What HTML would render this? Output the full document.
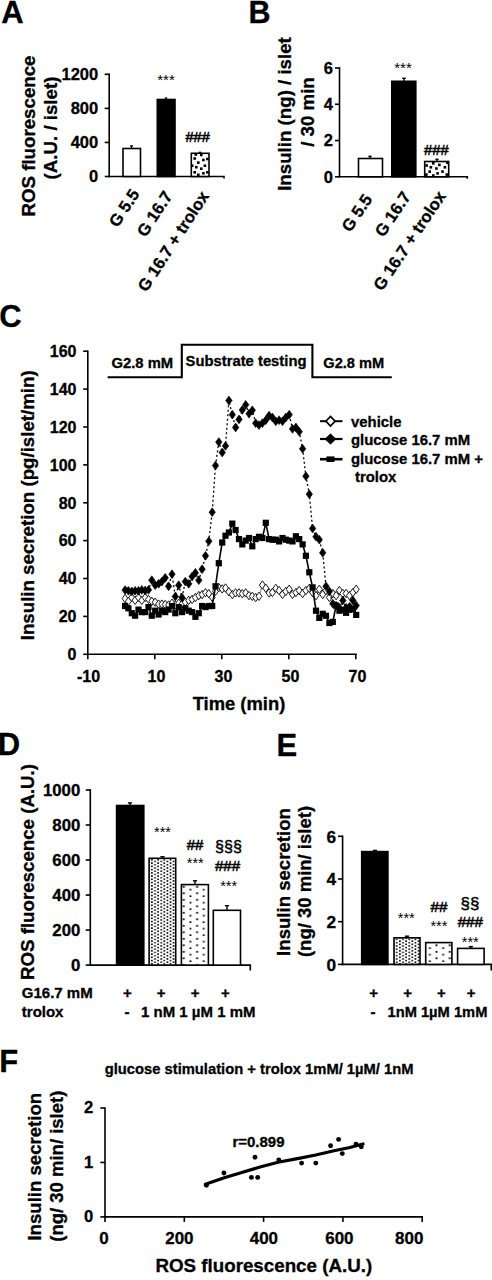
<!DOCTYPE html>
<html><head><meta charset="utf-8"><title>Figure</title>
<style>
html,body{margin:0;padding:0;background:#fff;}
body{width:492px;height:1280px;overflow:hidden;font-family:"Liberation Sans",sans-serif;}
svg{display:block;}
svg text{font-family:"Liberation Sans",sans-serif;fill:#000;}
svg text[font-weight=bold]{stroke:#000;stroke-width:0.3px;}
</style></head><body>
<svg width="492" height="1280" viewBox="0 0 492 1280">
<rect width="492" height="1280" fill="#fff"/>
<defs>
<pattern id="pA" width="8" height="9" patternUnits="userSpaceOnUse">
<rect width="8" height="9" fill="#fff"/>
<rect x="1" y="1" width="2.4" height="2.4" fill="#000"/>
<rect x="5" y="5.5" width="2.4" height="2.4" fill="#000"/>
</pattern>
<pattern id="pDense" width="6.2" height="3.25" patternUnits="userSpaceOnUse" patternTransform="translate(2.25 1.0)">
<rect width="6.2" height="3.25" fill="#fff"/>
<rect x="0.05" y="0.05" width="1.6" height="1.6" fill="#000"/>
<rect x="3.15" y="1.675" width="1.6" height="1.6" fill="#000"/>
</pattern>
<pattern id="pSparse" width="13.3" height="6.5" patternUnits="userSpaceOnUse">
<rect width="13.3" height="6.5" fill="#fff"/>
<rect x="10.0" y="1.9" width="1.8" height="1.8" fill="#000"/>
<rect x="3.35" y="4.9" width="1.8" height="1.8" fill="#000"/>
</pattern>
</defs>
<text x="1.3" y="23.2" font-size="31" text-anchor="start" font-weight="bold" stroke="#000" stroke-width="0.5">A</text>
<line x1="109.2" y1="73.5" x2="109.2" y2="177.3" stroke="#000" stroke-width="1.6" />
<path d="M108.4 176.5 H224 V178.5" fill="none" stroke="#000" stroke-width="1.6"/>
<line x1="104.7" y1="176.5" x2="109.2" y2="176.5" stroke="#000" stroke-width="1.6" />
<text x="98.2" y="182.4" font-size="16.5" text-anchor="end" font-weight="bold" >0</text>
<line x1="104.7" y1="142.43333333333334" x2="109.2" y2="142.43333333333334" stroke="#000" stroke-width="1.6" />
<text x="98.2" y="148.33333333333334" font-size="16.5" text-anchor="end" font-weight="bold" >400</text>
<line x1="104.7" y1="108.36666666666666" x2="109.2" y2="108.36666666666666" stroke="#000" stroke-width="1.6" />
<text x="98.2" y="114.26666666666667" font-size="16.5" text-anchor="end" font-weight="bold" >800</text>
<line x1="104.7" y1="74.3" x2="109.2" y2="74.3" stroke="#000" stroke-width="1.6" />
<text x="98.2" y="80.2" font-size="16.5" text-anchor="end" font-weight="bold" >1200</text>
<rect x="123" y="148.5" width="17.5" height="28" fill="#fff" stroke="#000" stroke-width="1.6"/>
<line x1="131.5" y1="148.5" x2="131.5" y2="145.9" stroke="#000" stroke-width="1.4" />
<line x1="130.1" y1="145.9" x2="132.9" y2="145.9" stroke="#000" stroke-width="1.4" />
<rect x="157.3" y="99.5" width="17.7" height="77" fill="#000" stroke="#000" stroke-width="1.6"/>
<line x1="166" y1="99.5" x2="166" y2="98.1" stroke="#000" stroke-width="1.4" />
<line x1="164.8" y1="98.1" x2="167.2" y2="98.1" stroke="#000" stroke-width="1.4" />
<clipPath id="cb1"><rect x="191.3" y="153.3" width="17.7" height="23.2"/></clipPath>
<rect x="191.3" y="153.3" width="17.7" height="23.2" fill="#fff"/>
<g clip-path="url(#cb1)">
<rect x="194.45" y="153.2" width="2.6" height="2.6" fill="#000"/>
<rect x="200.0" y="153.7" width="2.6" height="2.6" fill="#000"/>
<rect x="193.4" y="157.2" width="2.6" height="2.6" fill="#000"/>
<rect x="202.1" y="158.7" width="2.6" height="2.6" fill="#000"/>
<rect x="206.1" y="157.7" width="2.6" height="2.6" fill="#000"/>
<rect x="197.0" y="161.3" width="2.6" height="2.6" fill="#000"/>
<rect x="190.9" y="164.4" width="2.6" height="2.6" fill="#000"/>
<rect x="203.6" y="164.4" width="2.6" height="2.6" fill="#000"/>
<rect x="195.0" y="165.9" width="2.6" height="2.6" fill="#000"/>
<rect x="200.0" y="167.4" width="2.6" height="2.6" fill="#000"/>
<rect x="193.4" y="171.0" width="2.6" height="2.6" fill="#000"/>
<rect x="202.1" y="172.0" width="2.6" height="2.6" fill="#000"/>
<rect x="206.1" y="171.0" width="2.6" height="2.6" fill="#000"/>
<rect x="197.0" y="173.5" width="2.6" height="2.6" fill="#000"/>
</g>
<rect x="191.3" y="153.3" width="17.7" height="23.2" fill="none" stroke="#000" stroke-width="1.6"/>
<line x1="200" y1="153.3" x2="200" y2="152.4" stroke="#000" stroke-width="1.4" />
<line x1="198.8" y1="152.4" x2="201.2" y2="152.4" stroke="#000" stroke-width="1.4" />
<text x="166" y="85" font-size="15" text-anchor="middle" font-weight="normal" >***</text>
<text x="197.6" y="142" font-size="14.6" text-anchor="middle" font-weight="normal" stroke="#000" stroke-width="0.5">###</text>
<text x="34.5" y="136" font-size="18.7" text-anchor="middle" font-weight="bold" transform="rotate(-90 34.5 136)" >ROS fluorescence</text>
<text x="56.5" y="128" font-size="18.7" text-anchor="middle" font-weight="bold" transform="rotate(-90 56.5 128)" >(A.U. / islet)</text>
<text x="140" y="194" font-size="16.7" text-anchor="end" font-weight="bold" transform="rotate(-57 140 194)" >G 5.5</text>
<text x="173" y="196" font-size="16.7" text-anchor="end" font-weight="bold" transform="rotate(-57 173 196)" >G 16.7</text>
<text x="209.5" y="196" font-size="16.7" text-anchor="end" font-weight="bold" transform="rotate(-57 209.5 196)" >G 16.7 + trolox</text>
<text x="248.4" y="22.8" font-size="30.5" text-anchor="start" font-weight="bold" stroke="#000" stroke-width="0.5">B</text>
<line x1="339.5" y1="67.2" x2="339.5" y2="177.60000000000002" stroke="#000" stroke-width="1.6" />
<path d="M338.7 176.8 H467.3 V178.8" fill="none" stroke="#000" stroke-width="1.6"/>
<line x1="335.0" y1="176.8" x2="339.5" y2="176.8" stroke="#000" stroke-width="1.6" />
<text x="333.0" y="182.70000000000002" font-size="16.5" text-anchor="end" font-weight="bold" >0</text>
<line x1="335.0" y1="140.53333333333333" x2="339.5" y2="140.53333333333333" stroke="#000" stroke-width="1.6" />
<text x="333.0" y="146.43333333333334" font-size="16.5" text-anchor="end" font-weight="bold" >2</text>
<line x1="335.0" y1="104.26666666666667" x2="339.5" y2="104.26666666666667" stroke="#000" stroke-width="1.6" />
<text x="333.0" y="110.16666666666667" font-size="16.5" text-anchor="end" font-weight="bold" >4</text>
<line x1="335.0" y1="68.0" x2="339.5" y2="68.0" stroke="#000" stroke-width="1.6" />
<text x="333.0" y="73.9" font-size="16.5" text-anchor="end" font-weight="bold" >6</text>
<rect x="358.5" y="158.5" width="24" height="18.3" fill="#fff" stroke="#000" stroke-width="1.6"/>
<line x1="370" y1="158.5" x2="370" y2="156.3" stroke="#000" stroke-width="1.4" />
<line x1="368.4" y1="156.3" x2="371.6" y2="156.3" stroke="#000" stroke-width="1.4" />
<rect x="391.8" y="81.3" width="24" height="95.5" fill="#000" stroke="#000" stroke-width="1.6"/>
<line x1="404" y1="81.3" x2="404" y2="78.3" stroke="#000" stroke-width="1.4" />
<line x1="402.2" y1="78.3" x2="405.8" y2="78.3" stroke="#000" stroke-width="1.4" />
<clipPath id="cb2"><rect x="424.7" y="161.5" width="24" height="15.3"/></clipPath>
<rect x="424.7" y="161.5" width="24" height="15.3" fill="#fff"/>
<g clip-path="url(#cb2)">
<rect x="425.3" y="164.2" width="2.6" height="2.6" fill="#000"/>
<rect x="438.1" y="163.6" width="2.6" height="2.6" fill="#000"/>
<rect x="443.6" y="166.0" width="2.6" height="2.6" fill="#000"/>
<rect x="429.6" y="166.0" width="2.6" height="2.6" fill="#000"/>
<rect x="435.1" y="167.2" width="2.6" height="2.6" fill="#000"/>
<rect x="428.4" y="170.3" width="2.6" height="2.6" fill="#000"/>
<rect x="441.2" y="170.3" width="2.6" height="2.6" fill="#000"/>
<rect x="436.3" y="172.1" width="2.6" height="2.6" fill="#000"/>
<rect x="432.0" y="162.0" width="2.6" height="2.6" fill="#000"/>
<rect x="445.5" y="173.3" width="2.6" height="2.6" fill="#000"/>
<rect x="425.1" y="173.3" width="2.6" height="2.6" fill="#000"/>
<rect x="432.0" y="174.2" width="2.6" height="2.6" fill="#000"/>
<rect x="446.2" y="161.5" width="2.6" height="2.6" fill="#000"/>
</g>
<rect x="424.7" y="161.5" width="24" height="15.3" fill="none" stroke="#000" stroke-width="1.6"/>
<line x1="437" y1="161.5" x2="437" y2="159.3" stroke="#000" stroke-width="1.4" />
<line x1="435.4" y1="159.3" x2="438.6" y2="159.3" stroke="#000" stroke-width="1.4" />
<text x="403" y="72.5" font-size="15" text-anchor="middle" font-weight="normal" >***</text>
<text x="436.4" y="155.2" font-size="14.8" text-anchor="middle" font-weight="normal" stroke="#000" stroke-width="0.5">###</text>
<text x="291" y="114" font-size="18.7" text-anchor="middle" font-weight="bold" transform="rotate(-90 291 114)" >Insulin (ng) / islet</text>
<text x="313.5" y="112" font-size="18.7" text-anchor="middle" font-weight="bold" transform="rotate(-90 313.5 112)" >/ 30 min</text>
<text x="373" y="199.2" font-size="16.7" text-anchor="end" font-weight="bold" transform="rotate(-56 373 199.2)" >G 5.5</text>
<text x="411.5" y="196.5" font-size="16.7" text-anchor="end" font-weight="bold" transform="rotate(-56 411.5 196.5)" >G 16.7</text>
<text x="446.5" y="196" font-size="16.7" text-anchor="end" font-weight="bold" transform="rotate(-56 446.5 196)" >G 16.7 + trolox</text>
<text x="-0.7" y="327.3" font-size="31" text-anchor="start" font-weight="bold" stroke="#000" stroke-width="0.5">C</text>
<line x1="87.8" y1="350.4" x2="87.8" y2="655.0999999999999" stroke="#000" stroke-width="1.6" />
<line x1="87.0" y1="654.3" x2="356.8" y2="654.3" stroke="#000" stroke-width="1.6" />
<line x1="83.2" y1="654.3" x2="87.8" y2="654.3" stroke="#000" stroke-width="1.6" />
<text x="76.5" y="660.0" font-size="16" text-anchor="end" font-weight="bold" >0</text>
<line x1="83.2" y1="616.4" x2="87.8" y2="616.4" stroke="#000" stroke-width="1.6" />
<text x="76.5" y="622.1" font-size="16" text-anchor="end" font-weight="bold" >20</text>
<line x1="83.2" y1="578.5" x2="87.8" y2="578.5" stroke="#000" stroke-width="1.6" />
<text x="76.5" y="584.2" font-size="16" text-anchor="end" font-weight="bold" >40</text>
<line x1="83.2" y1="540.6" x2="87.8" y2="540.6" stroke="#000" stroke-width="1.6" />
<text x="76.5" y="546.3000000000001" font-size="16" text-anchor="end" font-weight="bold" >60</text>
<line x1="83.2" y1="502.8" x2="87.8" y2="502.8" stroke="#000" stroke-width="1.6" />
<text x="76.5" y="508.5" font-size="16" text-anchor="end" font-weight="bold" >80</text>
<line x1="83.2" y1="464.9" x2="87.8" y2="464.9" stroke="#000" stroke-width="1.6" />
<text x="76.5" y="470.59999999999997" font-size="16" text-anchor="end" font-weight="bold" >100</text>
<line x1="83.2" y1="427.0" x2="87.8" y2="427.0" stroke="#000" stroke-width="1.6" />
<text x="76.5" y="432.7" font-size="16" text-anchor="end" font-weight="bold" >120</text>
<line x1="83.2" y1="389.1" x2="87.8" y2="389.1" stroke="#000" stroke-width="1.6" />
<text x="76.5" y="394.8" font-size="16" text-anchor="end" font-weight="bold" >140</text>
<line x1="83.2" y1="351.2" x2="87.8" y2="351.2" stroke="#000" stroke-width="1.6" />
<text x="76.5" y="356.9" font-size="16" text-anchor="end" font-weight="bold" >160</text>
<line x1="87.8" y1="654.3" x2="87.8" y2="659.3" stroke="#000" stroke-width="1.6" />
<text x="88.60000000000001" y="681.5" font-size="16" text-anchor="middle" font-weight="bold" >-10</text>
<line x1="154.79999999999998" y1="654.3" x2="154.79999999999998" y2="659.3" stroke="#000" stroke-width="1.6" />
<text x="156.5" y="681.5" font-size="16" text-anchor="middle" font-weight="bold" >10</text>
<line x1="221.79999999999998" y1="654.3" x2="221.79999999999998" y2="659.3" stroke="#000" stroke-width="1.6" />
<text x="223.5" y="681.5" font-size="16" text-anchor="middle" font-weight="bold" >30</text>
<line x1="288.8" y1="654.3" x2="288.8" y2="659.3" stroke="#000" stroke-width="1.6" />
<text x="290.5" y="681.5" font-size="16" text-anchor="middle" font-weight="bold" >50</text>
<line x1="355.8" y1="654.3" x2="355.8" y2="659.3" stroke="#000" stroke-width="1.6" />
<text x="357.5" y="681.5" font-size="16" text-anchor="middle" font-weight="bold" >70</text>
<text x="239" y="710" font-size="18.4" text-anchor="middle" font-weight="bold" >Time (min)</text>
<text x="34.5" y="505.3" font-size="18.7" text-anchor="middle" font-weight="bold" transform="rotate(-90 34.5 505.3)" >Insulin secretion (pg/islet/min)</text>
<path d="M107.6 377.3 H181.8 V344.8 H312.4 V377.3 H391.8" fill="none" stroke="#000" stroke-width="2.1"/>
<text x="111.5" y="368" font-size="14.8" text-anchor="start" font-weight="bold" >G2.8 mM</text>
<text x="185.6" y="365.6" font-size="14.8" text-anchor="start" font-weight="bold" >Substrate testing</text>
<text x="323.3" y="368" font-size="14.6" text-anchor="start" font-weight="bold" >G2.8 mM</text>
<polyline points="125.1,598.6 128.4,601.3 131.8,597.5 135.1,600.3 138.5,597.5 141.8,600.3 145.2,597.5 148.5,599.4 151.8,601.3 155.2,602.2 158.6,604.1 161.9,604.1 165.2,604.5 168.6,605.0 172.0,603.2 175.3,605.0 178.7,603.2 182.0,604.1 185.3,602.2 188.7,600.3 192.1,599.4 195.4,597.5 198.8,595.6 202.1,594.6 205.5,592.7 208.8,593.7 212.2,597.3 215.5,591.2 218.8,587.6 222.2,588.9 225.5,588.0 228.9,591.8 232.3,594.6 235.6,592.9 239.0,592.9 242.3,593.7 245.7,592.9 249.0,595.6 252.3,596.3 255.7,597.5 259.0,596.3 262.4,585.0 265.8,588.2 269.1,592.9 272.4,592.5 275.8,588.4 279.1,590.5 282.5,594.4 285.8,591.4 289.2,589.3 292.5,594.4 295.9,592.5 299.2,590.5 302.6,593.5 305.9,590.5 309.3,588.4 312.6,592.5 316.0,595.6 319.3,589.3 322.7,594.4 326.0,590.5 329.4,597.5 332.8,593.5 336.1,595.6 339.4,590.5 342.8,593.5 346.1,593.5 349.5,595.6 352.9,592.5 356.2,589.3" fill="none" stroke="#000" stroke-width="0.5"/>
<path d="M125.1 594.4 L128.1 598.6 L125.1 602.8 L122.1 598.6 Z" fill="#fff" stroke="#000" stroke-width="0.9"/>
<path d="M128.4 597.1 L131.4 601.3 L128.4 605.5 L125.4 601.3 Z" fill="#fff" stroke="#000" stroke-width="0.9"/>
<path d="M131.8 593.3 L134.8 597.5 L131.8 601.7 L128.8 597.5 Z" fill="#fff" stroke="#000" stroke-width="0.9"/>
<path d="M135.1 596.1 L138.1 600.3 L135.1 604.5 L132.1 600.3 Z" fill="#fff" stroke="#000" stroke-width="0.9"/>
<path d="M138.5 593.3 L141.5 597.5 L138.5 601.7 L135.5 597.5 Z" fill="#fff" stroke="#000" stroke-width="0.9"/>
<path d="M141.8 596.1 L144.8 600.3 L141.8 604.5 L138.8 600.3 Z" fill="#fff" stroke="#000" stroke-width="0.9"/>
<path d="M145.2 593.3 L148.2 597.5 L145.2 601.7 L142.2 597.5 Z" fill="#fff" stroke="#000" stroke-width="0.9"/>
<path d="M148.5 595.2 L151.5 599.4 L148.5 603.6 L145.5 599.4 Z" fill="#fff" stroke="#000" stroke-width="0.9"/>
<path d="M151.8 597.1 L154.8 601.3 L151.8 605.5 L148.8 601.3 Z" fill="#fff" stroke="#000" stroke-width="0.9"/>
<path d="M155.2 598.0 L158.2 602.2 L155.2 606.4 L152.2 602.2 Z" fill="#fff" stroke="#000" stroke-width="0.9"/>
<path d="M158.6 599.9 L161.6 604.1 L158.6 608.3 L155.6 604.1 Z" fill="#fff" stroke="#000" stroke-width="0.9"/>
<path d="M161.9 599.9 L164.9 604.1 L161.9 608.3 L158.9 604.1 Z" fill="#fff" stroke="#000" stroke-width="0.9"/>
<path d="M165.2 600.3 L168.2 604.5 L165.2 608.7 L162.2 604.5 Z" fill="#fff" stroke="#000" stroke-width="0.9"/>
<path d="M168.6 600.8 L171.6 605.0 L168.6 609.2 L165.6 605.0 Z" fill="#fff" stroke="#000" stroke-width="0.9"/>
<path d="M172.0 599.0 L175.0 603.2 L172.0 607.4 L169.0 603.2 Z" fill="#fff" stroke="#000" stroke-width="0.9"/>
<path d="M175.3 600.8 L178.3 605.0 L175.3 609.2 L172.3 605.0 Z" fill="#fff" stroke="#000" stroke-width="0.9"/>
<path d="M178.7 599.0 L181.7 603.2 L178.7 607.4 L175.7 603.2 Z" fill="#fff" stroke="#000" stroke-width="0.9"/>
<path d="M182.0 599.9 L185.0 604.1 L182.0 608.3 L179.0 604.1 Z" fill="#fff" stroke="#000" stroke-width="0.9"/>
<path d="M185.3 598.0 L188.3 602.2 L185.3 606.4 L182.3 602.2 Z" fill="#fff" stroke="#000" stroke-width="0.9"/>
<path d="M188.7 596.1 L191.7 600.3 L188.7 604.5 L185.7 600.3 Z" fill="#fff" stroke="#000" stroke-width="0.9"/>
<path d="M192.1 595.2 L195.1 599.4 L192.1 603.6 L189.1 599.4 Z" fill="#fff" stroke="#000" stroke-width="0.9"/>
<path d="M195.4 593.3 L198.4 597.5 L195.4 601.7 L192.4 597.5 Z" fill="#fff" stroke="#000" stroke-width="0.9"/>
<path d="M198.8 591.4 L201.8 595.6 L198.8 599.8 L195.8 595.6 Z" fill="#fff" stroke="#000" stroke-width="0.9"/>
<path d="M202.1 590.4 L205.1 594.6 L202.1 598.8 L199.1 594.6 Z" fill="#fff" stroke="#000" stroke-width="0.9"/>
<path d="M205.5 588.5 L208.5 592.7 L205.5 596.9 L202.5 592.7 Z" fill="#fff" stroke="#000" stroke-width="0.9"/>
<path d="M208.8 589.5 L211.8 593.7 L208.8 597.9 L205.8 593.7 Z" fill="#fff" stroke="#000" stroke-width="0.9"/>
<path d="M212.2 593.1 L215.2 597.3 L212.2 601.5 L209.2 597.3 Z" fill="#fff" stroke="#000" stroke-width="0.9"/>
<path d="M215.5 587.0 L218.5 591.2 L215.5 595.4 L212.5 591.2 Z" fill="#fff" stroke="#000" stroke-width="0.9"/>
<path d="M218.8 583.4 L221.8 587.6 L218.8 591.8 L215.8 587.6 Z" fill="#fff" stroke="#000" stroke-width="0.9"/>
<path d="M222.2 584.7 L225.2 588.9 L222.2 593.1 L219.2 588.9 Z" fill="#fff" stroke="#000" stroke-width="0.9"/>
<path d="M225.5 583.8 L228.5 588.0 L225.5 592.2 L222.5 588.0 Z" fill="#fff" stroke="#000" stroke-width="0.9"/>
<path d="M228.9 587.6 L231.9 591.8 L228.9 596.0 L225.9 591.8 Z" fill="#fff" stroke="#000" stroke-width="0.9"/>
<path d="M232.3 590.4 L235.3 594.6 L232.3 598.8 L229.3 594.6 Z" fill="#fff" stroke="#000" stroke-width="0.9"/>
<path d="M235.6 588.7 L238.6 592.9 L235.6 597.1 L232.6 592.9 Z" fill="#fff" stroke="#000" stroke-width="0.9"/>
<path d="M239.0 588.7 L242.0 592.9 L239.0 597.1 L236.0 592.9 Z" fill="#fff" stroke="#000" stroke-width="0.9"/>
<path d="M242.3 589.5 L245.3 593.7 L242.3 597.9 L239.3 593.7 Z" fill="#fff" stroke="#000" stroke-width="0.9"/>
<path d="M245.7 588.7 L248.7 592.9 L245.7 597.1 L242.7 592.9 Z" fill="#fff" stroke="#000" stroke-width="0.9"/>
<path d="M249.0 591.4 L252.0 595.6 L249.0 599.8 L246.0 595.6 Z" fill="#fff" stroke="#000" stroke-width="0.9"/>
<path d="M252.3 592.1 L255.3 596.3 L252.3 600.5 L249.3 596.3 Z" fill="#fff" stroke="#000" stroke-width="0.9"/>
<path d="M255.7 593.3 L258.7 597.5 L255.7 601.7 L252.7 597.5 Z" fill="#fff" stroke="#000" stroke-width="0.9"/>
<path d="M259.0 592.1 L262.0 596.3 L259.0 600.5 L256.0 596.3 Z" fill="#fff" stroke="#000" stroke-width="0.9"/>
<path d="M262.4 580.8 L265.4 585.0 L262.4 589.2 L259.4 585.0 Z" fill="#fff" stroke="#000" stroke-width="0.9"/>
<path d="M265.8 584.0 L268.8 588.2 L265.8 592.4 L262.8 588.2 Z" fill="#fff" stroke="#000" stroke-width="0.9"/>
<path d="M269.1 588.7 L272.1 592.9 L269.1 597.1 L266.1 592.9 Z" fill="#fff" stroke="#000" stroke-width="0.9"/>
<path d="M272.4 588.3 L275.4 592.5 L272.4 596.7 L269.4 592.5 Z" fill="#fff" stroke="#000" stroke-width="0.9"/>
<path d="M275.8 584.2 L278.8 588.4 L275.8 592.6 L272.8 588.4 Z" fill="#fff" stroke="#000" stroke-width="0.9"/>
<path d="M279.1 586.3 L282.1 590.5 L279.1 594.7 L276.1 590.5 Z" fill="#fff" stroke="#000" stroke-width="0.9"/>
<path d="M282.5 590.2 L285.5 594.4 L282.5 598.6 L279.5 594.4 Z" fill="#fff" stroke="#000" stroke-width="0.9"/>
<path d="M285.8 587.2 L288.8 591.4 L285.8 595.6 L282.8 591.4 Z" fill="#fff" stroke="#000" stroke-width="0.9"/>
<path d="M289.2 585.1 L292.2 589.3 L289.2 593.5 L286.2 589.3 Z" fill="#fff" stroke="#000" stroke-width="0.9"/>
<path d="M292.5 590.2 L295.5 594.4 L292.5 598.6 L289.5 594.4 Z" fill="#fff" stroke="#000" stroke-width="0.9"/>
<path d="M295.9 588.3 L298.9 592.5 L295.9 596.7 L292.9 592.5 Z" fill="#fff" stroke="#000" stroke-width="0.9"/>
<path d="M299.2 586.3 L302.2 590.5 L299.2 594.7 L296.2 590.5 Z" fill="#fff" stroke="#000" stroke-width="0.9"/>
<path d="M302.6 589.3 L305.6 593.5 L302.6 597.7 L299.6 593.5 Z" fill="#fff" stroke="#000" stroke-width="0.9"/>
<path d="M305.9 586.3 L308.9 590.5 L305.9 594.7 L302.9 590.5 Z" fill="#fff" stroke="#000" stroke-width="0.9"/>
<path d="M309.3 584.2 L312.3 588.4 L309.3 592.6 L306.3 588.4 Z" fill="#fff" stroke="#000" stroke-width="0.9"/>
<path d="M312.6 588.3 L315.6 592.5 L312.6 596.7 L309.6 592.5 Z" fill="#fff" stroke="#000" stroke-width="0.9"/>
<path d="M316.0 591.4 L319.0 595.6 L316.0 599.8 L313.0 595.6 Z" fill="#fff" stroke="#000" stroke-width="0.9"/>
<path d="M319.3 585.1 L322.3 589.3 L319.3 593.5 L316.3 589.3 Z" fill="#fff" stroke="#000" stroke-width="0.9"/>
<path d="M322.7 590.2 L325.7 594.4 L322.7 598.6 L319.7 594.4 Z" fill="#fff" stroke="#000" stroke-width="0.9"/>
<path d="M326.0 586.3 L329.0 590.5 L326.0 594.7 L323.0 590.5 Z" fill="#fff" stroke="#000" stroke-width="0.9"/>
<path d="M329.4 593.3 L332.4 597.5 L329.4 601.7 L326.4 597.5 Z" fill="#fff" stroke="#000" stroke-width="0.9"/>
<path d="M332.8 589.3 L335.8 593.5 L332.8 597.7 L329.8 593.5 Z" fill="#fff" stroke="#000" stroke-width="0.9"/>
<path d="M336.1 591.4 L339.1 595.6 L336.1 599.8 L333.1 595.6 Z" fill="#fff" stroke="#000" stroke-width="0.9"/>
<path d="M339.4 586.3 L342.4 590.5 L339.4 594.7 L336.4 590.5 Z" fill="#fff" stroke="#000" stroke-width="0.9"/>
<path d="M342.8 589.3 L345.8 593.5 L342.8 597.7 L339.8 593.5 Z" fill="#fff" stroke="#000" stroke-width="0.9"/>
<path d="M346.1 589.3 L349.1 593.5 L346.1 597.7 L343.1 593.5 Z" fill="#fff" stroke="#000" stroke-width="0.9"/>
<path d="M349.5 591.4 L352.5 595.6 L349.5 599.8 L346.5 595.6 Z" fill="#fff" stroke="#000" stroke-width="0.9"/>
<path d="M352.9 588.3 L355.9 592.5 L352.9 596.7 L349.9 592.5 Z" fill="#fff" stroke="#000" stroke-width="0.9"/>
<path d="M356.2 585.1 L359.2 589.3 L356.2 593.5 L353.2 589.3 Z" fill="#fff" stroke="#000" stroke-width="0.9"/>
<polyline points="125.1,590.1 128.4,590.8 131.8,591.4 135.1,590.8 138.5,590.8 141.8,589.9 145.2,590.5 148.5,589.9 151.8,580.2 155.2,585.2 158.6,583.8 161.9,581.6 165.2,577.8 168.6,586.3 172.0,574.2 175.3,596.5 178.7,585.2 182.0,597.5 185.3,581.6 188.7,583.8 192.1,576.6 195.4,572.8 198.8,580.2 202.1,569.2 205.5,555.8 208.8,541.2 212.2,512.2 215.5,465.6 218.8,442.1 222.2,452.5 225.5,445.9 228.9,400.5 232.3,414.7 235.6,427.5 239.0,419.4 242.3,409.9 245.7,404.8 249.0,413.7 252.3,410.3 255.7,423.2 259.0,425.1 262.4,423.2 265.8,420.2 269.1,415.6 272.4,417.5 275.8,421.3 279.1,420.2 282.5,421.3 285.8,417.5 289.2,414.7 292.5,428.9 295.9,427.5 299.2,431.7 302.6,448.8 305.9,476.2 309.3,494.2 312.6,528.5 316.0,536.7 319.3,539.7 322.7,552.8 326.0,586.3 329.4,591.4 332.8,603.7 336.1,605.6 339.4,607.9 342.8,600.5 346.1,607.7 349.5,606.8 352.9,600.5 356.2,605.6" fill="none" stroke="#000" stroke-width="1.3" stroke-dasharray="2 2.5"/>
<path d="M125.1 585.7 L128.3 590.1 L125.1 594.5 L121.9 590.1 Z" fill="#000" stroke="#000" stroke-width="0.6"/>
<path d="M128.4 586.4 L131.6 590.8 L128.4 595.2 L125.2 590.8 Z" fill="#000" stroke="#000" stroke-width="0.6"/>
<path d="M131.8 587.0 L135.0 591.4 L131.8 595.8 L128.6 591.4 Z" fill="#000" stroke="#000" stroke-width="0.6"/>
<path d="M135.1 586.4 L138.3 590.8 L135.1 595.2 L131.9 590.8 Z" fill="#000" stroke="#000" stroke-width="0.6"/>
<path d="M138.5 586.4 L141.7 590.8 L138.5 595.2 L135.3 590.8 Z" fill="#000" stroke="#000" stroke-width="0.6"/>
<path d="M141.8 585.5 L145.0 589.9 L141.8 594.3 L138.6 589.9 Z" fill="#000" stroke="#000" stroke-width="0.6"/>
<path d="M145.2 586.1 L148.4 590.5 L145.2 594.9 L142.0 590.5 Z" fill="#000" stroke="#000" stroke-width="0.6"/>
<path d="M148.5 585.5 L151.7 589.9 L148.5 594.3 L145.3 589.9 Z" fill="#000" stroke="#000" stroke-width="0.6"/>
<path d="M151.8 575.8 L155.0 580.2 L151.8 584.6 L148.6 580.2 Z" fill="#000" stroke="#000" stroke-width="0.6"/>
<path d="M155.2 580.8 L158.4 585.2 L155.2 589.6 L152.0 585.2 Z" fill="#000" stroke="#000" stroke-width="0.6"/>
<path d="M158.6 579.4 L161.8 583.8 L158.6 588.2 L155.4 583.8 Z" fill="#000" stroke="#000" stroke-width="0.6"/>
<path d="M161.9 577.2 L165.1 581.6 L161.9 586.0 L158.7 581.6 Z" fill="#000" stroke="#000" stroke-width="0.6"/>
<path d="M165.2 573.4 L168.4 577.8 L165.2 582.2 L162.0 577.8 Z" fill="#000" stroke="#000" stroke-width="0.6"/>
<path d="M168.6 581.9 L171.8 586.3 L168.6 590.7 L165.4 586.3 Z" fill="#000" stroke="#000" stroke-width="0.6"/>
<path d="M172.0 569.8 L175.2 574.2 L172.0 578.6 L168.8 574.2 Z" fill="#000" stroke="#000" stroke-width="0.6"/>
<path d="M175.3 592.1 L178.5 596.5 L175.3 600.9 L172.1 596.5 Z" fill="#000" stroke="#000" stroke-width="0.6"/>
<path d="M178.7 580.8 L181.9 585.2 L178.7 589.6 L175.5 585.2 Z" fill="#000" stroke="#000" stroke-width="0.6"/>
<path d="M182.0 593.1 L185.2 597.5 L182.0 601.9 L178.8 597.5 Z" fill="#000" stroke="#000" stroke-width="0.6"/>
<path d="M185.3 577.2 L188.5 581.6 L185.3 586.0 L182.1 581.6 Z" fill="#000" stroke="#000" stroke-width="0.6"/>
<path d="M188.7 579.4 L191.9 583.8 L188.7 588.2 L185.5 583.8 Z" fill="#000" stroke="#000" stroke-width="0.6"/>
<path d="M192.1 572.2 L195.3 576.6 L192.1 581.0 L188.9 576.6 Z" fill="#000" stroke="#000" stroke-width="0.6"/>
<path d="M195.4 568.4 L198.6 572.8 L195.4 577.2 L192.2 572.8 Z" fill="#000" stroke="#000" stroke-width="0.6"/>
<path d="M198.8 575.8 L202.0 580.2 L198.8 584.6 L195.6 580.2 Z" fill="#000" stroke="#000" stroke-width="0.6"/>
<path d="M202.1 564.8 L205.3 569.2 L202.1 573.6 L198.9 569.2 Z" fill="#000" stroke="#000" stroke-width="0.6"/>
<path d="M205.5 551.4 L208.7 555.8 L205.5 560.2 L202.3 555.8 Z" fill="#000" stroke="#000" stroke-width="0.6"/>
<path d="M208.8 536.8 L212.0 541.2 L208.8 545.6 L205.6 541.2 Z" fill="#000" stroke="#000" stroke-width="0.6"/>
<path d="M212.2 507.8 L215.4 512.2 L212.2 516.6 L209.0 512.2 Z" fill="#000" stroke="#000" stroke-width="0.6"/>
<path d="M215.5 461.2 L218.7 465.6 L215.5 470.0 L212.3 465.6 Z" fill="#000" stroke="#000" stroke-width="0.6"/>
<path d="M218.8 437.7 L222.0 442.1 L218.8 446.5 L215.6 442.1 Z" fill="#000" stroke="#000" stroke-width="0.6"/>
<path d="M222.2 448.1 L225.4 452.5 L222.2 456.9 L219.0 452.5 Z" fill="#000" stroke="#000" stroke-width="0.6"/>
<path d="M225.5 441.5 L228.7 445.9 L225.5 450.3 L222.3 445.9 Z" fill="#000" stroke="#000" stroke-width="0.6"/>
<path d="M228.9 396.1 L232.1 400.5 L228.9 404.9 L225.7 400.5 Z" fill="#000" stroke="#000" stroke-width="0.6"/>
<path d="M232.3 410.3 L235.5 414.7 L232.3 419.1 L229.1 414.7 Z" fill="#000" stroke="#000" stroke-width="0.6"/>
<path d="M235.6 423.1 L238.8 427.5 L235.6 431.9 L232.4 427.5 Z" fill="#000" stroke="#000" stroke-width="0.6"/>
<path d="M239.0 415.0 L242.2 419.4 L239.0 423.8 L235.8 419.4 Z" fill="#000" stroke="#000" stroke-width="0.6"/>
<path d="M242.3 405.5 L245.5 409.9 L242.3 414.3 L239.1 409.9 Z" fill="#000" stroke="#000" stroke-width="0.6"/>
<path d="M245.7 400.4 L248.9 404.8 L245.7 409.2 L242.5 404.8 Z" fill="#000" stroke="#000" stroke-width="0.6"/>
<path d="M249.0 409.3 L252.2 413.7 L249.0 418.1 L245.8 413.7 Z" fill="#000" stroke="#000" stroke-width="0.6"/>
<path d="M252.3 405.9 L255.5 410.3 L252.3 414.7 L249.1 410.3 Z" fill="#000" stroke="#000" stroke-width="0.6"/>
<path d="M255.7 418.8 L258.9 423.2 L255.7 427.6 L252.5 423.2 Z" fill="#000" stroke="#000" stroke-width="0.6"/>
<path d="M259.0 420.7 L262.2 425.1 L259.0 429.5 L255.8 425.1 Z" fill="#000" stroke="#000" stroke-width="0.6"/>
<path d="M262.4 418.8 L265.6 423.2 L262.4 427.6 L259.2 423.2 Z" fill="#000" stroke="#000" stroke-width="0.6"/>
<path d="M265.8 415.8 L269.0 420.2 L265.8 424.6 L262.6 420.2 Z" fill="#000" stroke="#000" stroke-width="0.6"/>
<path d="M269.1 411.2 L272.3 415.6 L269.1 420.0 L265.9 415.6 Z" fill="#000" stroke="#000" stroke-width="0.6"/>
<path d="M272.4 413.1 L275.6 417.5 L272.4 421.9 L269.2 417.5 Z" fill="#000" stroke="#000" stroke-width="0.6"/>
<path d="M275.8 416.9 L279.0 421.3 L275.8 425.7 L272.6 421.3 Z" fill="#000" stroke="#000" stroke-width="0.6"/>
<path d="M279.1 415.8 L282.3 420.2 L279.1 424.6 L275.9 420.2 Z" fill="#000" stroke="#000" stroke-width="0.6"/>
<path d="M282.5 416.9 L285.7 421.3 L282.5 425.7 L279.3 421.3 Z" fill="#000" stroke="#000" stroke-width="0.6"/>
<path d="M285.8 413.1 L289.0 417.5 L285.8 421.9 L282.6 417.5 Z" fill="#000" stroke="#000" stroke-width="0.6"/>
<path d="M289.2 410.3 L292.4 414.7 L289.2 419.1 L286.0 414.7 Z" fill="#000" stroke="#000" stroke-width="0.6"/>
<path d="M292.5 424.5 L295.7 428.9 L292.5 433.3 L289.3 428.9 Z" fill="#000" stroke="#000" stroke-width="0.6"/>
<path d="M295.9 423.1 L299.1 427.5 L295.9 431.9 L292.7 427.5 Z" fill="#000" stroke="#000" stroke-width="0.6"/>
<path d="M299.2 427.3 L302.4 431.7 L299.2 436.1 L296.0 431.7 Z" fill="#000" stroke="#000" stroke-width="0.6"/>
<path d="M302.6 444.4 L305.8 448.8 L302.6 453.2 L299.4 448.8 Z" fill="#000" stroke="#000" stroke-width="0.6"/>
<path d="M305.9 471.8 L309.1 476.2 L305.9 480.6 L302.7 476.2 Z" fill="#000" stroke="#000" stroke-width="0.6"/>
<path d="M309.3 489.8 L312.5 494.2 L309.3 498.6 L306.1 494.2 Z" fill="#000" stroke="#000" stroke-width="0.6"/>
<path d="M312.6 524.1 L315.8 528.5 L312.6 532.9 L309.4 528.5 Z" fill="#000" stroke="#000" stroke-width="0.6"/>
<path d="M316.0 532.3 L319.2 536.7 L316.0 541.1 L312.8 536.7 Z" fill="#000" stroke="#000" stroke-width="0.6"/>
<path d="M319.3 535.3 L322.5 539.7 L319.3 544.1 L316.1 539.7 Z" fill="#000" stroke="#000" stroke-width="0.6"/>
<path d="M322.7 548.4 L325.9 552.8 L322.7 557.2 L319.5 552.8 Z" fill="#000" stroke="#000" stroke-width="0.6"/>
<path d="M326.0 581.9 L329.2 586.3 L326.0 590.7 L322.8 586.3 Z" fill="#000" stroke="#000" stroke-width="0.6"/>
<path d="M329.4 587.0 L332.6 591.4 L329.4 595.8 L326.2 591.4 Z" fill="#000" stroke="#000" stroke-width="0.6"/>
<path d="M332.8 599.3 L336.0 603.7 L332.8 608.1 L329.6 603.7 Z" fill="#000" stroke="#000" stroke-width="0.6"/>
<path d="M336.1 601.2 L339.3 605.6 L336.1 610.0 L332.9 605.6 Z" fill="#000" stroke="#000" stroke-width="0.6"/>
<path d="M339.4 603.5 L342.6 607.9 L339.4 612.3 L336.2 607.9 Z" fill="#000" stroke="#000" stroke-width="0.6"/>
<path d="M342.8 596.1 L346.0 600.5 L342.8 604.9 L339.6 600.5 Z" fill="#000" stroke="#000" stroke-width="0.6"/>
<path d="M346.1 603.3 L349.3 607.7 L346.1 612.1 L342.9 607.7 Z" fill="#000" stroke="#000" stroke-width="0.6"/>
<path d="M349.5 602.4 L352.7 606.8 L349.5 611.2 L346.3 606.8 Z" fill="#000" stroke="#000" stroke-width="0.6"/>
<path d="M352.9 596.1 L356.1 600.5 L352.9 604.9 L349.7 600.5 Z" fill="#000" stroke="#000" stroke-width="0.6"/>
<path d="M356.2 601.2 L359.4 605.6 L356.2 610.0 L353.0 605.6 Z" fill="#000" stroke="#000" stroke-width="0.6"/>
<polyline points="125.1,606.0 128.4,608.3 131.8,613.2 135.1,615.7 138.5,609.6 141.8,612.1 145.2,612.1 148.5,607.1 151.8,615.7 155.2,610.7 158.6,614.5 161.9,610.7 165.2,612.1 168.6,609.6 172.0,606.0 175.3,613.2 178.7,607.1 182.0,612.1 185.3,608.3 188.7,610.7 192.1,612.1 195.4,616.8 198.8,613.2 202.1,606.0 205.5,607.1 208.8,606.0 212.2,606.0 215.5,586.3 218.8,563.2 222.2,542.5 225.5,535.7 228.9,532.5 232.3,523.6 235.6,530.0 239.0,539.1 242.3,544.4 245.7,540.6 249.0,538.0 252.3,546.3 255.7,539.1 259.0,536.8 262.4,538.0 265.8,522.8 269.1,539.1 272.4,539.7 275.8,539.7 279.1,541.4 282.5,538.0 285.8,539.7 289.2,540.6 292.5,541.4 295.9,536.3 299.2,539.1 302.6,544.4 305.9,555.8 309.3,572.3 312.6,587.4 316.0,610.7 319.3,617.9 322.7,613.8 326.0,615.8 329.4,623.0 332.8,621.9 336.1,605.6 339.4,610.7 342.8,609.8 346.1,612.8 349.5,609.8 352.9,608.8 356.2,614.9" fill="none" stroke="#000" stroke-width="1.6"/>
<rect x="122.0" y="602.9" width="6.2" height="6.2" fill="#000"/>
<rect x="125.3" y="605.2" width="6.2" height="6.2" fill="#000"/>
<rect x="128.7" y="610.1" width="6.2" height="6.2" fill="#000"/>
<rect x="132.0" y="612.6" width="6.2" height="6.2" fill="#000"/>
<rect x="135.4" y="606.5" width="6.2" height="6.2" fill="#000"/>
<rect x="138.7" y="609.0" width="6.2" height="6.2" fill="#000"/>
<rect x="142.1" y="609.0" width="6.2" height="6.2" fill="#000"/>
<rect x="145.4" y="604.0" width="6.2" height="6.2" fill="#000"/>
<rect x="148.7" y="612.6" width="6.2" height="6.2" fill="#000"/>
<rect x="152.1" y="607.6" width="6.2" height="6.2" fill="#000"/>
<rect x="155.5" y="611.4" width="6.2" height="6.2" fill="#000"/>
<rect x="158.8" y="607.6" width="6.2" height="6.2" fill="#000"/>
<rect x="162.1" y="609.0" width="6.2" height="6.2" fill="#000"/>
<rect x="165.5" y="606.5" width="6.2" height="6.2" fill="#000"/>
<rect x="168.9" y="602.9" width="6.2" height="6.2" fill="#000"/>
<rect x="172.2" y="610.1" width="6.2" height="6.2" fill="#000"/>
<rect x="175.6" y="604.0" width="6.2" height="6.2" fill="#000"/>
<rect x="178.9" y="609.0" width="6.2" height="6.2" fill="#000"/>
<rect x="182.2" y="605.2" width="6.2" height="6.2" fill="#000"/>
<rect x="185.6" y="607.6" width="6.2" height="6.2" fill="#000"/>
<rect x="189.0" y="609.0" width="6.2" height="6.2" fill="#000"/>
<rect x="192.3" y="613.7" width="6.2" height="6.2" fill="#000"/>
<rect x="195.7" y="610.1" width="6.2" height="6.2" fill="#000"/>
<rect x="199.0" y="602.9" width="6.2" height="6.2" fill="#000"/>
<rect x="202.4" y="604.0" width="6.2" height="6.2" fill="#000"/>
<rect x="205.7" y="602.9" width="6.2" height="6.2" fill="#000"/>
<rect x="209.1" y="602.9" width="6.2" height="6.2" fill="#000"/>
<rect x="212.4" y="583.2" width="6.2" height="6.2" fill="#000"/>
<rect x="215.7" y="560.1" width="6.2" height="6.2" fill="#000"/>
<rect x="219.1" y="539.4" width="6.2" height="6.2" fill="#000"/>
<rect x="222.4" y="532.6" width="6.2" height="6.2" fill="#000"/>
<rect x="225.8" y="529.4" width="6.2" height="6.2" fill="#000"/>
<rect x="229.2" y="520.5" width="6.2" height="6.2" fill="#000"/>
<rect x="232.5" y="526.9" width="6.2" height="6.2" fill="#000"/>
<rect x="235.9" y="536.0" width="6.2" height="6.2" fill="#000"/>
<rect x="239.2" y="541.3" width="6.2" height="6.2" fill="#000"/>
<rect x="242.6" y="537.5" width="6.2" height="6.2" fill="#000"/>
<rect x="245.9" y="534.9" width="6.2" height="6.2" fill="#000"/>
<rect x="249.2" y="543.2" width="6.2" height="6.2" fill="#000"/>
<rect x="252.6" y="536.0" width="6.2" height="6.2" fill="#000"/>
<rect x="255.9" y="533.7" width="6.2" height="6.2" fill="#000"/>
<rect x="259.3" y="534.9" width="6.2" height="6.2" fill="#000"/>
<rect x="262.7" y="519.7" width="6.2" height="6.2" fill="#000"/>
<rect x="266.0" y="536.0" width="6.2" height="6.2" fill="#000"/>
<rect x="269.3" y="536.6" width="6.2" height="6.2" fill="#000"/>
<rect x="272.7" y="536.6" width="6.2" height="6.2" fill="#000"/>
<rect x="276.0" y="538.3" width="6.2" height="6.2" fill="#000"/>
<rect x="279.4" y="534.9" width="6.2" height="6.2" fill="#000"/>
<rect x="282.7" y="536.6" width="6.2" height="6.2" fill="#000"/>
<rect x="286.1" y="537.5" width="6.2" height="6.2" fill="#000"/>
<rect x="289.4" y="538.3" width="6.2" height="6.2" fill="#000"/>
<rect x="292.8" y="533.2" width="6.2" height="6.2" fill="#000"/>
<rect x="296.1" y="536.0" width="6.2" height="6.2" fill="#000"/>
<rect x="299.5" y="541.3" width="6.2" height="6.2" fill="#000"/>
<rect x="302.8" y="552.7" width="6.2" height="6.2" fill="#000"/>
<rect x="306.2" y="569.2" width="6.2" height="6.2" fill="#000"/>
<rect x="309.5" y="584.3" width="6.2" height="6.2" fill="#000"/>
<rect x="312.9" y="607.6" width="6.2" height="6.2" fill="#000"/>
<rect x="316.2" y="614.8" width="6.2" height="6.2" fill="#000"/>
<rect x="319.6" y="610.7" width="6.2" height="6.2" fill="#000"/>
<rect x="322.9" y="612.7" width="6.2" height="6.2" fill="#000"/>
<rect x="326.3" y="619.9" width="6.2" height="6.2" fill="#000"/>
<rect x="329.7" y="618.8" width="6.2" height="6.2" fill="#000"/>
<rect x="333.0" y="602.5" width="6.2" height="6.2" fill="#000"/>
<rect x="336.3" y="607.6" width="6.2" height="6.2" fill="#000"/>
<rect x="339.7" y="606.7" width="6.2" height="6.2" fill="#000"/>
<rect x="343.0" y="609.7" width="6.2" height="6.2" fill="#000"/>
<rect x="346.4" y="606.7" width="6.2" height="6.2" fill="#000"/>
<rect x="349.8" y="605.7" width="6.2" height="6.2" fill="#000"/>
<rect x="353.1" y="611.8" width="6.2" height="6.2" fill="#000"/>
<line x1="320" y1="421.2" x2="342.5" y2="421.2" stroke="#000" stroke-width="2" />
<path d="M330.5 416.4 L335.1 421.2 L330.5 426.0 L325.9 421.2 Z" fill="#fff" stroke="#000" stroke-width="1.7" stroke-linejoin="miter"/>
<line x1="320" y1="439" x2="342.5" y2="439" stroke="#000" stroke-width="2.2" />
<path d="M330.5 433.8 L336.1 439 L330.5 444.2 L324.9 439 Z" fill="#000" stroke="#000" stroke-width="0.6" stroke-linejoin="miter"/>
<line x1="320" y1="459.2" x2="342.5" y2="459.2" stroke="#000" stroke-width="2.6" />
<rect x="326.5" y="456.4" width="8" height="5.6" fill="#000"/>
<text x="351" y="426.5" font-size="14.9" text-anchor="start" font-weight="bold" >vehicle</text>
<text x="351" y="444.5" font-size="14.9" text-anchor="start" font-weight="bold" >glucose 16.7 mM</text>
<text x="351" y="464" font-size="14.9" text-anchor="start" font-weight="bold" >glucose 16.7 mM +</text>
<text x="355" y="481.5" font-size="14.9" text-anchor="start" font-weight="bold" >trolox</text>
<text x="-2.2" y="754.9" font-size="31" text-anchor="start" font-weight="bold" stroke="#000" stroke-width="0.5">D</text>
<line x1="90.3" y1="789.2" x2="90.3" y2="965.9" stroke="#000" stroke-width="1.6" />
<path d="M89.5 965.1 H250.3 V970.6" fill="none" stroke="#000" stroke-width="1.6"/>
<line x1="85.7" y1="965.1" x2="90.3" y2="965.1" stroke="#000" stroke-width="1.6" />
<text x="80.3" y="971.1" font-size="16.8" text-anchor="end" font-weight="bold" >0</text>
<line x1="85.7" y1="930.08" x2="90.3" y2="930.08" stroke="#000" stroke-width="1.6" />
<text x="80.3" y="936.08" font-size="16.8" text-anchor="end" font-weight="bold" >200</text>
<line x1="85.7" y1="895.06" x2="90.3" y2="895.06" stroke="#000" stroke-width="1.6" />
<text x="80.3" y="901.06" font-size="16.8" text-anchor="end" font-weight="bold" >400</text>
<line x1="85.7" y1="860.04" x2="90.3" y2="860.04" stroke="#000" stroke-width="1.6" />
<text x="80.3" y="866.04" font-size="16.8" text-anchor="end" font-weight="bold" >600</text>
<line x1="85.7" y1="825.02" x2="90.3" y2="825.02" stroke="#000" stroke-width="1.6" />
<text x="80.3" y="831.02" font-size="16.8" text-anchor="end" font-weight="bold" >800</text>
<line x1="85.7" y1="790.0" x2="90.3" y2="790.0" stroke="#000" stroke-width="1.6" />
<text x="80.3" y="796.0" font-size="16.8" text-anchor="end" font-weight="bold" >1000</text>
<rect x="116.6" y="805.5" width="27.2" height="159.60000000000002" fill="#000" stroke="#000" stroke-width="1.6"/>
<line x1="130" y1="805.5" x2="130" y2="802.9" stroke="#000" stroke-width="1.4" />
<line x1="127.9" y1="802.9" x2="132.1" y2="802.9" stroke="#000" stroke-width="1.4" />
<rect x="149.1" y="858.3" width="26.6" height="106.80000000000007" fill="url(#pDense)" stroke="#000" stroke-width="1.6"/>
<line x1="162.5" y1="858.3" x2="162.5" y2="856.6999999999999" stroke="#000" stroke-width="1.4" />
<line x1="160.4" y1="856.6999999999999" x2="164.6" y2="856.6999999999999" stroke="#000" stroke-width="1.4" />
<rect x="181.4" y="884.6" width="27" height="80.5" fill="url(#pSparse)" stroke="#000" stroke-width="1.6"/>
<line x1="195" y1="884.6" x2="195" y2="880.8000000000001" stroke="#000" stroke-width="1.4" />
<line x1="192.9" y1="880.8000000000001" x2="197.1" y2="880.8000000000001" stroke="#000" stroke-width="1.4" />
<rect x="213.3" y="910.3" width="27.2" height="54.80000000000007" fill="#fff" stroke="#000" stroke-width="1.6"/>
<line x1="227" y1="910.3" x2="227" y2="905.6999999999999" stroke="#000" stroke-width="1.4" />
<line x1="224.9" y1="905.6999999999999" x2="229.1" y2="905.6999999999999" stroke="#000" stroke-width="1.4" />
<text x="162.5" y="836.5" font-size="14.5" text-anchor="middle" font-weight="normal" >***</text>
<text x="195" y="849.6" font-size="15" text-anchor="middle" font-weight="normal" stroke="#000" stroke-width="0.5">##</text>
<text x="195.3" y="868.3" font-size="14.5" text-anchor="middle" font-weight="normal" >***</text>
<text x="228.4" y="851.6" font-size="16.2" text-anchor="middle" font-weight="normal" stroke="#000" stroke-width="0.45">§§§</text>
<text x="227.6" y="870.5" font-size="15.2" text-anchor="middle" font-weight="normal" stroke="#000" stroke-width="0.5">###</text>
<text x="228.7" y="890.6" font-size="14.5" text-anchor="middle" font-weight="normal" >***</text>
<text x="33.8" y="872" font-size="18.7" text-anchor="middle" font-weight="bold" transform="rotate(-90 33.8 872)" >ROS fluorescence (A.U.)</text>
<text x="21.8" y="998.3" font-size="15" text-anchor="start" font-weight="bold" >G16.7 mM</text>
<text x="21.8" y="1017.4" font-size="15" text-anchor="start" font-weight="bold" >trolox</text>
<text x="127.5" y="998.3" font-size="15" text-anchor="middle" font-weight="bold" >+</text>
<text x="161.2" y="998.3" font-size="15" text-anchor="middle" font-weight="bold" >+</text>
<text x="195.2" y="998.3" font-size="15" text-anchor="middle" font-weight="bold" >+</text>
<text x="225.4" y="998.3" font-size="15" text-anchor="middle" font-weight="bold" >+</text>
<text x="127" y="1017.4" font-size="15" text-anchor="middle" font-weight="bold" >-</text>
<text x="141" y="1017.4" font-size="15" text-anchor="start" font-weight="bold" >1 nM 1 µM 1 mM</text>
<text x="276.6" y="755.5" font-size="31" text-anchor="start" font-weight="bold" stroke="#000" stroke-width="0.5">E</text>
<line x1="342.6" y1="835.5" x2="342.6" y2="965.1999999999999" stroke="#000" stroke-width="1.6" />
<path d="M341.8 964.4 H491.2 V970.4" fill="none" stroke="#000" stroke-width="1.6"/>
<line x1="338.0" y1="964.4" x2="342.6" y2="964.4" stroke="#000" stroke-width="1.6" />
<text x="336.0" y="970.6" font-size="17.3" text-anchor="end" font-weight="bold" >0</text>
<line x1="338.0" y1="921.6999999999999" x2="342.6" y2="921.6999999999999" stroke="#000" stroke-width="1.6" />
<text x="336.0" y="927.9" font-size="17.3" text-anchor="end" font-weight="bold" >2</text>
<line x1="338.0" y1="879.0" x2="342.6" y2="879.0" stroke="#000" stroke-width="1.6" />
<text x="336.0" y="885.2" font-size="17.3" text-anchor="end" font-weight="bold" >4</text>
<line x1="338.0" y1="836.3" x2="342.6" y2="836.3" stroke="#000" stroke-width="1.6" />
<text x="336.0" y="842.5" font-size="17.3" text-anchor="end" font-weight="bold" >6</text>
<rect x="361.7" y="851.6" width="26.2" height="112.79999999999995" fill="#000" stroke="#000" stroke-width="1.6"/>
<line x1="375" y1="851.6" x2="375" y2="850.4" stroke="#000" stroke-width="1.4" />
<line x1="372.9" y1="850.4" x2="377.1" y2="850.4" stroke="#000" stroke-width="1.4" />
<rect x="394" y="937.8" width="26" height="26.600000000000023" fill="url(#pDense)" stroke="#000" stroke-width="1.6"/>
<line x1="407" y1="937.8" x2="407" y2="936.1999999999999" stroke="#000" stroke-width="1.4" />
<line x1="404.9" y1="936.1999999999999" x2="409.1" y2="936.1999999999999" stroke="#000" stroke-width="1.4" />
<rect x="425.7" y="942.6" width="26.2" height="21.799999999999955" fill="url(#pSparse)" stroke="#000" stroke-width="1.6"/>
<rect x="457.6" y="948.4" width="26.5" height="16.0" fill="#fff" stroke="#000" stroke-width="1.6"/>
<line x1="470.8" y1="948.4" x2="470.8" y2="946.6" stroke="#000" stroke-width="1.4" />
<line x1="468.7" y1="946.6" x2="472.90000000000003" y2="946.6" stroke="#000" stroke-width="1.4" />
<text x="406.3" y="923" font-size="14.5" text-anchor="middle" font-weight="normal" >***</text>
<text x="438.9" y="911.8" font-size="15.3" text-anchor="middle" font-weight="normal" stroke="#000" stroke-width="0.5">##</text>
<text x="438.9" y="930.8" font-size="14.5" text-anchor="middle" font-weight="normal" >***</text>
<text x="470" y="909.3" font-size="17" text-anchor="middle" font-weight="normal" stroke="#000" stroke-width="0.45">§§</text>
<text x="470.3" y="927.4" font-size="15.2" text-anchor="middle" font-weight="normal" stroke="#000" stroke-width="0.5">###</text>
<text x="470.3" y="946.7" font-size="14.5" text-anchor="middle" font-weight="normal" >***</text>
<text x="289.8" y="882" font-size="18.6" text-anchor="middle" font-weight="bold" transform="rotate(-90 289.8 882)" >Insulin secretion</text>
<text x="311.2" y="881.5" font-size="18.5" text-anchor="middle" font-weight="bold" transform="rotate(-90 311.2 881.5)" >(ng/ 30 min/ islet)</text>
<text x="373.7" y="998" font-size="15" text-anchor="middle" font-weight="bold" >+</text>
<text x="407.7" y="998" font-size="15" text-anchor="middle" font-weight="bold" >+</text>
<text x="441.5" y="998" font-size="15" text-anchor="middle" font-weight="bold" >+</text>
<text x="471.2" y="998" font-size="15" text-anchor="middle" font-weight="bold" >+</text>
<text x="373.1" y="1016.6" font-size="15" text-anchor="middle" font-weight="bold" >-</text>
<text x="387.5" y="1016.6" font-size="14.7" text-anchor="start" font-weight="bold" >1nM 1µM 1mM</text>
<text x="-0.8" y="1071.6" font-size="31" text-anchor="start" font-weight="bold" stroke="#000" stroke-width="0.5">F</text>
<text x="104.7" y="1074.4" font-size="14.75" text-anchor="start" font-weight="bold" >glucose stimulation + trolox 1mM/ 1µM/ 1nM</text>
<line x1="105" y1="1107.2" x2="105" y2="1217.7" stroke="#000" stroke-width="1.6" />
<line x1="104.2" y1="1216.9" x2="423" y2="1216.9" stroke="#000" stroke-width="1.6" />
<line x1="100.3" y1="1216.9" x2="105" y2="1216.9" stroke="#000" stroke-width="1.6" />
<text x="93.2" y="1222.1000000000001" font-size="16.6" text-anchor="end" font-weight="bold" >0</text>
<line x1="100.3" y1="1162.45" x2="105" y2="1162.45" stroke="#000" stroke-width="1.6" />
<text x="93.2" y="1167.65" font-size="16.6" text-anchor="end" font-weight="bold" >1</text>
<line x1="100.3" y1="1108.0" x2="105" y2="1108.0" stroke="#000" stroke-width="1.6" />
<text x="93.2" y="1113.2" font-size="16.6" text-anchor="end" font-weight="bold" >2</text>
<line x1="105.0" y1="1216.9" x2="105.0" y2="1221.9" stroke="#000" stroke-width="1.6" />
<text x="104" y="1244.2" font-size="17" text-anchor="middle" font-weight="bold" >0</text>
<line x1="184.3" y1="1216.9" x2="184.3" y2="1221.9" stroke="#000" stroke-width="1.6" />
<text x="179.4" y="1244.2" font-size="17" text-anchor="middle" font-weight="bold" >200</text>
<line x1="263.6" y1="1216.9" x2="263.6" y2="1221.9" stroke="#000" stroke-width="1.6" />
<text x="263.9" y="1244.2" font-size="17" text-anchor="middle" font-weight="bold" >400</text>
<line x1="342.9" y1="1216.9" x2="342.9" y2="1221.9" stroke="#000" stroke-width="1.6" />
<text x="339.4" y="1244.2" font-size="17" text-anchor="middle" font-weight="bold" >600</text>
<line x1="422.2" y1="1216.9" x2="422.2" y2="1221.9" stroke="#000" stroke-width="1.6" />
<text x="409.3" y="1244.2" font-size="17" text-anchor="middle" font-weight="bold" >800</text>
<text x="263.8" y="1272.3" font-size="18.75" text-anchor="middle" font-weight="bold" >ROS fluorescence (A.U.)</text>
<text x="40.6" y="1166.7" font-size="18.6" text-anchor="middle" font-weight="bold" transform="rotate(-90 40.6 1166.7)" >Insulin secretion</text>
<text x="62.8" y="1166.2" font-size="18.5" text-anchor="middle" font-weight="bold" transform="rotate(-90 62.8 1166.2)" >(ng/ 30 min/ islet)</text>
<text x="232.4" y="1146.8" font-size="15" text-anchor="start" font-weight="bold" >r=0.899</text>
<polyline points="205.4,1184.2 224.3,1177.8 242.6,1172.2 260.9,1166.8 279.2,1162 297.5,1158.6 315.7,1155 334,1150.8 348.7,1147.8 363,1144" fill="none" stroke="#000" stroke-width="3.2" stroke-linecap="round" stroke-linejoin="round"/>
<circle cx="206.4" cy="1185.3" r="2.45" fill="#000"/>
<circle cx="223.9" cy="1173" r="2.45" fill="#000"/>
<circle cx="251.4" cy="1177.4" r="2.45" fill="#000"/>
<circle cx="257.7" cy="1177.4" r="2.45" fill="#000"/>
<circle cx="255" cy="1157.3" r="2.45" fill="#000"/>
<circle cx="278.8" cy="1160" r="2.45" fill="#000"/>
<circle cx="301.6" cy="1163.1" r="2.45" fill="#000"/>
<circle cx="315.8" cy="1163.1" r="2.45" fill="#000"/>
<circle cx="330.6" cy="1145.7" r="2.45" fill="#000"/>
<circle cx="338.6" cy="1139.4" r="2.45" fill="#000"/>
<circle cx="342.3" cy="1153.6" r="2.45" fill="#000"/>
<circle cx="356" cy="1144.1" r="2.45" fill="#000"/>
<circle cx="361.3" cy="1146.8" r="2.45" fill="#000"/>
</svg>
</body></html>
